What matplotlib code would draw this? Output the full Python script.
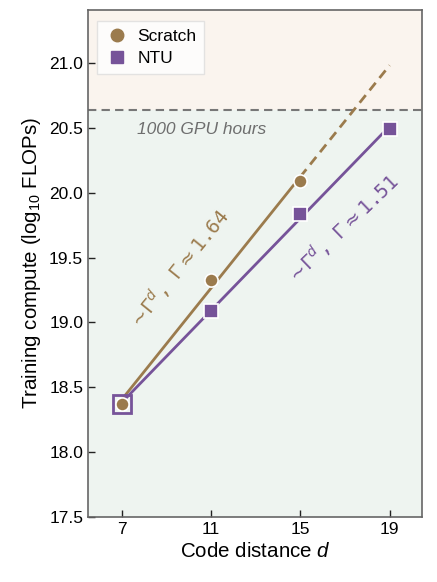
import numpy as np
import matplotlib
matplotlib.use("Agg")
import matplotlib.pyplot as plt

plt.rcParams["font.family"] = ["Liberation Sans", "DejaVu Sans"]
plt.rcParams["mathtext.fontset"] = "custom"
plt.rcParams["mathtext.it"] = "Liberation Sans:italic"
plt.rcParams["mathtext.rm"] = "Liberation Sans"

d_scratch = np.array([7, 11, 15])
y_scratch = np.array([18.37, 19.33, 20.09])
d_ntu = np.array([7, 11, 15, 19])
y_ntu = np.array([18.37, 19.09, 19.84, 20.49])
threshold = 20.64
xticks = [7, 11, 15, 19]
yticks = [17.5, 18.0, 18.5, 19.0, 19.5, 20.0, 20.5, 21.0]

c_s = "#9b7b4d"
c_n = "#765399"

fig = plt.figure(figsize=(4.37, 5.82), dpi=100)
ax = fig.add_axes([0.2014, 0.1117, 0.7643, 0.8711])
xlim = (5.5, 20.45)
ylim = (17.5, 21.41)
ax.set_xlim(*xlim)
ax.set_ylim(*ylim)

ax.axhspan(threshold, ylim[1], color="#faf4ee", zorder=0)
ax.axhspan(ylim[0], threshold, color="#eef4f0", zorder=0)
ax.axhline(threshold, color="#777777", ls=(0, (4, 2.5)), lw=1.5, zorder=1)
ax.text(7.7, 20.485, "1000 GPU hours", fontsize=12.5, style="italic", color="#6e6e6e",
        va="center", ha="left")

# fits
ps = np.polyfit(d_scratch, y_scratch, 1)
pn = np.polyfit(d_ntu, y_ntu, 1)
xs = np.array([7, 15])
ax.plot(xs, np.polyval(ps, xs), color=c_s, lw=2.0, zorder=2)
xd = np.array([15, 19])
ax.plot(xd, np.polyval(ps, xd), color=c_s, lw=2.0, ls=(0, (3.5, 2.2)), zorder=2)
xn = np.array([7, 19])
ax.plot(xn, np.polyval(pn, xn), color=c_n, lw=2.0, zorder=2)

# markers
ax.plot(d_ntu[0], y_ntu[0], ls="none", marker="s", ms=13, mfc="none", mec=c_n, mew=2, zorder=3)
ax.plot(d_ntu[1:], y_ntu[1:], ls="none", marker="s", ms=10, color=c_n, mec="white", mew=1.2, zorder=4)
ax.plot(d_scratch, y_scratch, ls="none", marker="o", ms=9.5, color=c_s, mec="white", mew=1.2, zorder=5)

gs = 10 ** ps[0]
gn = 10 ** pn[0]
ax.text(9.6, 19.41, r"$\sim\!\Gamma^d$, $\Gamma\approx$%.2f" % gs, color=c_s,
        family="DejaVu Sans Mono", math_fontfamily="dejavusans",
        fontsize=14, rotation=51, ha="center", va="center")
ax.text(16.9, 19.72, r"$\sim\!\Gamma^d$, $\Gamma\approx$%.2f" % gn, color=c_n,
        family="DejaVu Sans Mono", math_fontfamily="dejavusans",
        fontsize=14, rotation=44, ha="center", va="center")

# legend proxies
hs, = ax.plot([], [], ls="none", marker="o", ms=9, color=c_s, label="Scratch")
hn, = ax.plot([], [], ls="none", marker="s", ms=9, color=c_n, label="NTU")
leg = ax.legend(handles=[hs, hn], loc="upper left", fontsize=12.5, frameon=True, fancybox=False,
                handletextpad=0.5, borderpad=0.45, handlelength=1.4, labelspacing=0.4,
                bbox_to_anchor=(0.0, 0.995))
leg.get_frame().set_edgecolor("#dddddd")
leg.get_frame().set_linewidth(1.0)

ax.set_xticks(xticks)
ax.set_yticks(yticks)
ax.set_yticklabels([f"{v:.1f}" for v in yticks])
ax.tick_params(direction="in", length=5, width=1, labelsize=12.5, color="#222222")
for s in ax.spines.values():
    s.set_color("#666666")
    s.set_linewidth(1.2)
ax.set_xlabel("Code distance $d$", fontsize=14.8)
ax.set_ylabel("Training compute (log$_{10}$ FLOPs)", fontsize=14.8)

fig.savefig("out.png", dpi=100)
